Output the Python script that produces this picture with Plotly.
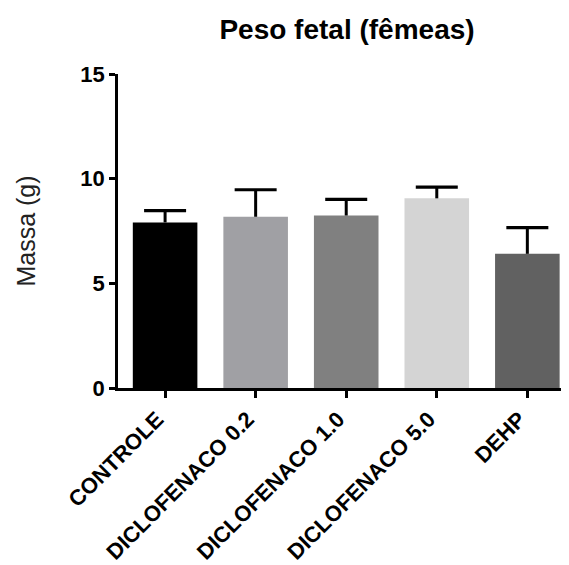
import plotly.graph_objects as go

categories = ["CONTROLE", "DICLOFENACO 0.2", "DICLOFENACO 1.0", "DICLOFENACO 5.0", "DEHP"]
means = [7.91, 8.18, 8.24, 9.06, 6.41]
errors = [0.56, 1.29, 0.77, 0.54, 1.25]
bar_colors = ["#000000", "#A0A0A4", "#808080", "#D4D4D4", "#616161"]
y_ticks = [0, 5, 10, 15]

FONT = "Arial, 'Liberation Sans', sans-serif"
xs = list(range(len(categories)))
tops = [m + e for m, e in zip(means, errors)]

fig = go.Figure()
fig.add_trace(go.Bar(
    x=xs,
    y=means,
    marker=dict(color=bar_colors, line=dict(width=0)),
    error_y=dict(type="data", symmetric=False, array=errors,
                 arrayminus=[0] * len(errors), color="#000000",
                 thickness=3, width=0),
    showlegend=False,
))
# error bar caps
fig.add_trace(go.Scatter(
    x=xs, y=tops, mode="markers",
    marker=dict(symbol="line-ew", size=30, line=dict(width=3.2, color="#000000")),
    showlegend=False, hoverinfo="skip",
))

fig.update_layout(
    width=569, height=565,
    margin=dict(l=110, r=8, t=66, b=185),
    paper_bgcolor="white", plot_bgcolor="white",
    bargap=0.287,
    font=dict(family=FONT, color="#000000"),
    title=dict(text="<b>Peso fetal (fêmeas)</b>", x=(347 - 8) / 569, xanchor="center",
               y=1 - 21 / 565, yanchor="middle", yref="container",
               font=dict(size=28, family=FONT, color="#000000")),
    xaxis=dict(
        range=[-0.52, 4.46],
        tickmode="array", tickvals=xs,
        ticktext=[f"<b>{c}</b>" for c in categories],
        tickangle=-45,
        ticklabelshift=-8,
        tickfont=dict(size=22, family=FONT, color="#000000"),
        showline=True, linecolor="#000000", linewidth=2.5,
        ticks="outside", ticklen=7, tickwidth=2.5, tickcolor="#000000",
        showgrid=False, zeroline=False,
    ),
    yaxis=dict(
        range=[0, 15],
        tickmode="array", tickvals=y_ticks,
        ticktext=[f"<b>{v}</b>" for v in y_ticks],
        tickfont=dict(size=22, family=FONT, color="#000000"),
        showline=True, linecolor="#000000", linewidth=2.5,
        ticks="outside", ticklen=6, tickwidth=2.5, tickcolor="#000000",
        showgrid=False, zeroline=False,
        title=dict(text="Massa (g)", font=dict(size=25, family=FONT, color="#222222"),
                   standoff=38),
    ),
)

fig.write_html("out.html")
